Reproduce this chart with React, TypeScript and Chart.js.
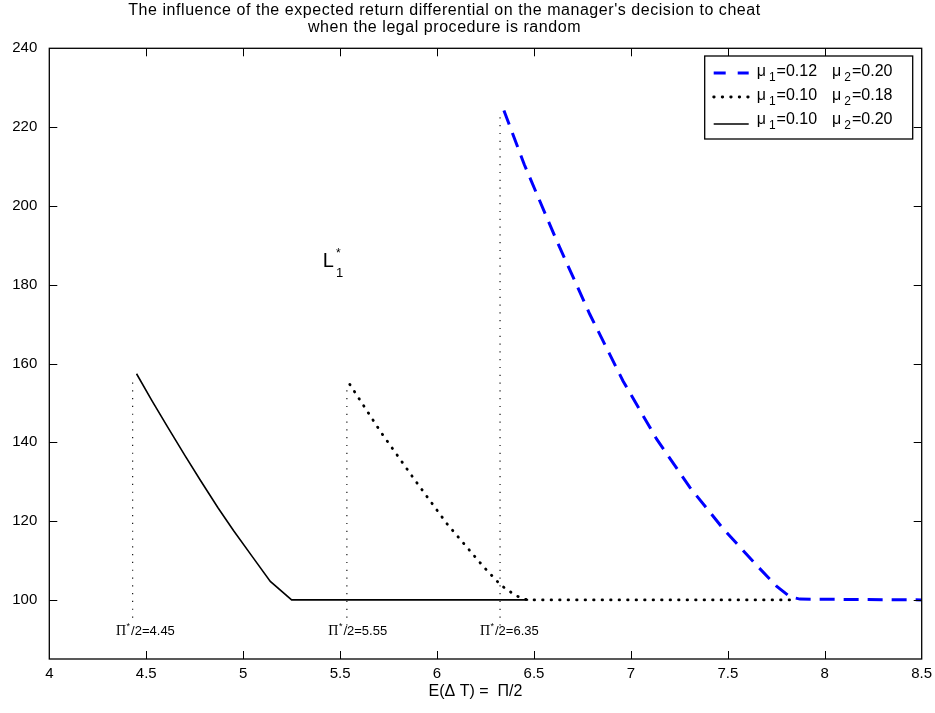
import React, { useEffect, useRef } from "react";
import { Chart, registerables } from "chart.js";

Chart.register(...registerables);

// ---- data ----
const X_TICKS = [4, 4.5, 5, 5.5, 6, 6.5, 7, 7.5, 8, 8.5];
const Y_TICKS = [100, 120, 140, 160, 180, 200, 220, 240];

const DASHED_X = [6.345, 6.45, 6.616, 6.788, 6.96, 7.133, 7.305, 7.477, 7.648, 7.751, 7.82, 7.872, 8.5];
const DASHED_Y = [224.2, 210.5, 191.3, 172.5, 155.5, 140.8, 128.5, 118.0, 108.8, 103.5, 100.8, 100.2, 100];

const DOTTED_X = [5.55, 5.71, 5.88, 6.05, 6.24, 6.33, 6.4, 6.44, 6.47, 7.85];
const DOTTED_Y = [154.7, 142.6, 130.8, 119.4, 108.4, 103.7, 101.3, 100.3, 100, 100];

const SOLID_X = [4.45, 4.53, 4.61, 4.7, 4.78, 4.87, 4.95, 5.05, 5.14, 5.25, 6.47];
const SOLID_Y = [157.4, 150.5, 143.9, 136.6, 130.3, 123.4, 117.6, 110.8, 104.7, 100, 100];

const VLINE_X = [4.43, 5.535, 6.325];
const VLINE_TOP = [156, 153.5, 223.8];
const VLINE_BOTTOM = [95.5, 93.5, 93.5];

const PI_LABEL_X = [4.344, 5.439, 6.221];
const PI_LABEL_TEXT = ["/2=4.45", "/2=5.55", "/2=6.35"];
const PI_LABEL_Y = 91.0;

const L_LABEL_X = 5.411;
const L_LABEL_Y = 184.5;

const TITLE_LINES = [
  "The influence of the expected return differential on the manager's decision to cheat",
  "when the legal procedure is random",
];
const X_AXIS_TITLE = "E(\u0394 T) =  \u03A0/2";

const LEGEND_MU1 = ["0.12", "0.10", "0.10"];
const LEGEND_MU2 = ["0.20", "0.18", "0.20"];

const SANS = "'Liberation Sans', Arial, sans-serif";
const SERIF = "'Liberation Serif', 'Times New Roman', serif";

const pts = (xs: number[], ys: number[]) => xs.map((x, i) => ({ x, y: ys[i] }));

const styles = [
  { borderColor: "#0000ff", borderWidth: 3, borderDash: [15, 9], borderCapStyle: "butt" },
  { borderColor: "#000000", borderWidth: 2.8, borderDash: [0.5, 8], borderCapStyle: "round" },
  { borderColor: "#000000", borderWidth: 1.6, borderDash: [], borderCapStyle: "butt" },
];

const decorPlugin = {
  id: "decor",
  afterDraw(chart: any) {
    const ctx = chart.ctx as CanvasRenderingContext2D;
    const { left, top, right, bottom } = chart.chartArea;
    const xs = chart.scales.x;
    const ys = chart.scales.y;
    ctx.save();
    // box
    ctx.strokeStyle = "#000";
    ctx.lineWidth = 1.3;
    ctx.setLineDash([]);
    ctx.strokeRect(left, top, right - left, bottom - top);
    // inward ticks
    ctx.lineWidth = 1;
    ctx.beginPath();
    X_TICKS.forEach((v) => {
      const px = Math.round(xs.getPixelForValue(v)) + 0.5;
      if (px <= left + 1 || px >= right - 1) return;
      ctx.moveTo(px, bottom);
      ctx.lineTo(px, bottom - 8);
      ctx.moveTo(px, top);
      ctx.lineTo(px, top + 8);
    });
    Y_TICKS.forEach((v) => {
      const py = Math.round(ys.getPixelForValue(v)) + 0.5;
      if (py <= top + 1 || py >= bottom - 1) return;
      ctx.moveTo(left, py);
      ctx.lineTo(left + 8, py);
      ctx.moveTo(right, py);
      ctx.lineTo(right - 8, py);
    });
    ctx.stroke();

    ctx.fillStyle = "#000";
    // title
    ctx.textAlign = "center";
    ctx.textBaseline = "middle";
    ctx.font = `16px ${SANS}`;
    (ctx as any).letterSpacing = "0.55px";
    const tcx = chart.width / 2 - 23;
    ctx.fillText(TITLE_LINES[0], tcx, 11);
    ctx.fillText(TITLE_LINES[1], tcx, 28);
    (ctx as any).letterSpacing = "0px";

    // x axis title
    ctx.font = `16px ${SANS}`;
    ctx.fillText(X_AXIS_TITLE, (left + right) / 2 - 10, bottom + 33);

    // Pi labels
    ctx.textAlign = "left";
    ctx.textBaseline = "alphabetic";
    PI_LABEL_X.forEach((xv, i) => {
      let px = xs.getPixelForValue(xv);
      const py = ys.getPixelForValue(PI_LABEL_Y);
      ctx.font = `14px ${SERIF}`;
      ctx.fillText("\u03A0", px, py);
      px += ctx.measureText("\u03A0").width + 0.5;
      ctx.font = `9px ${SANS}`;
      ctx.fillText("*", px, py - 6);
      px += ctx.measureText("*").width + 1;
      ctx.font = `13px ${SANS}`;
      ctx.fillText(PI_LABEL_TEXT[i], px, py);
    });

    // L*_1 label
    {
      const px = xs.getPixelForValue(L_LABEL_X);
      const py = ys.getPixelForValue(L_LABEL_Y);
      ctx.font = `20px ${SANS}`;
      ctx.fillText("L", px, py);
      const w = ctx.measureText("L").width;
      ctx.font = `12px ${SANS}`;
      ctx.fillText("*", px + w + 2, py - 10);
      ctx.font = `13px ${SANS}`;
      ctx.fillText("1", px + w + 2, py + 10);
    }

    // legend
    const bw = 208;
    const bh = 83;
    const bx = right - 9 - bw;
    const by = top + 7.7;
    ctx.fillStyle = "#fff";
    ctx.fillRect(bx, by, bw, bh);
    ctx.strokeStyle = "#000";
    ctx.lineWidth = 1.3;
    ctx.setLineDash([]);
    ctx.strokeRect(bx, by, bw, bh);
    const rows = [16, 40, 64];
    styles.forEach((st, i) => {
      const ry = by + rows[i];
      ctx.save();
      ctx.strokeStyle = st.borderColor;
      ctx.lineWidth = st.borderWidth;
      ctx.setLineDash(i === 0 ? [12, 12] : st.borderDash);
      ctx.lineCap = st.borderCapStyle as CanvasLineCap;
      ctx.beginPath();
      ctx.moveTo(bx + 9, ry + (i === 2 ? 4 : 1));
      ctx.lineTo(bx + 44, ry + (i === 2 ? 4 : 1));
      ctx.stroke();
      ctx.restore();
      ctx.fillStyle = "#000";
      ctx.textBaseline = "middle";
      let tx = bx + 52;
      const parts: [string, number, number, number][] = [
        ["\u03BC", 16, 0, 3],
        ["1", 12, 6, 1],
        ["=" + LEGEND_MU1[i], 16, 0, 15],
        ["\u03BC", 16, 0, 3],
        ["2", 12, 6, 1],
        ["=" + LEGEND_MU2[i], 16, 0, 0],
      ];
      parts.forEach(([t, size, dy, gap]) => {
        ctx.font = `${size}px ${SANS}`;
        ctx.fillText(t, tx, ry + dy);
        tx += ctx.measureText(t).width + gap;
      });
    });
    ctx.restore();
  },
};

export default function App() {
  const ref = useRef<HTMLCanvasElement | null>(null);
  useEffect(() => {
    if (!ref.current) return;
    const vlineSets = VLINE_X.map((x, i) => ({
      label: "vline" + i,
      data: [
        { x, y: VLINE_BOTTOM[i] },
        { x, y: VLINE_TOP[i] },
      ],
      borderColor: "#000",
      borderWidth: 1.1,
      borderDash: [1.2, 6.6],
      pointRadius: 0,
      fill: false,
    }));
    const chart = new Chart(ref.current, {
      type: "line",
      data: {
        datasets: [
          { label: "mu1=0.12 mu2=0.20", data: pts(DASHED_X, DASHED_Y), ...styles[0], pointRadius: 0, fill: false } as any,
          { label: "mu1=0.10 mu2=0.18", data: pts(DOTTED_X, DOTTED_Y), ...styles[1], pointRadius: 0, fill: false } as any,
          { label: "mu1=0.10 mu2=0.20", data: pts(SOLID_X, SOLID_Y), ...styles[2], pointRadius: 0, fill: false } as any,
          ...(vlineSets as any[]),
        ],
      },
      options: {
        responsive: false,
        animation: false,
        parsing: false as any,
        layout: { padding: { left: 0, top: 48.3, right: 13.3, bottom: 0 } },
        plugins: { legend: { display: false }, title: { display: false }, tooltip: { enabled: false } },
        elements: { line: { tension: 0 } },
        scales: {
          x: {
            type: "linear",
            min: 4,
            max: 8.5,
            grid: { display: false, drawTicks: false },
            border: { display: false },
            afterBuildTicks: (axis: any) => {
              axis.ticks = X_TICKS.map((v) => ({ value: v }));
            },
            afterFit: (axis: any) => {
              axis.height = 54;
              axis.paddingLeft = 0;
              axis.paddingRight = 0;
            },
            ticks: {
              autoSkip: false,
              maxRotation: 0,
              color: "#000",
              padding: 6,
              font: { family: SANS, size: 15 },
              callback: (v: any) => String(v),
            },
          },
          y: {
            type: "linear",
            min: 85,
            max: 240,
            grid: { display: false, drawTicks: false },
            border: { display: false },
            afterBuildTicks: (axis: any) => {
              axis.ticks = Y_TICKS.map((v) => ({ value: v }));
            },
            afterFit: (axis: any) => {
              axis.width = 49.3;
              axis.paddingTop = 0;
              axis.paddingBottom = 0;
            },
            ticks: {
              autoSkip: false,
              color: "#000",
              padding: 12,
              font: { family: SANS, size: 15 },
              callback: (v: any) => String(v),
            },
          },
        },
      },
      plugins: [decorPlugin],
    });
    return () => chart.destroy();
  }, []);
  return (
    <canvas
      ref={ref}
      width={935}
      height={713}
      style={{ position: "absolute", left: 0, top: 0, display: "block", background: "#fff" }}
    />
  );
}
